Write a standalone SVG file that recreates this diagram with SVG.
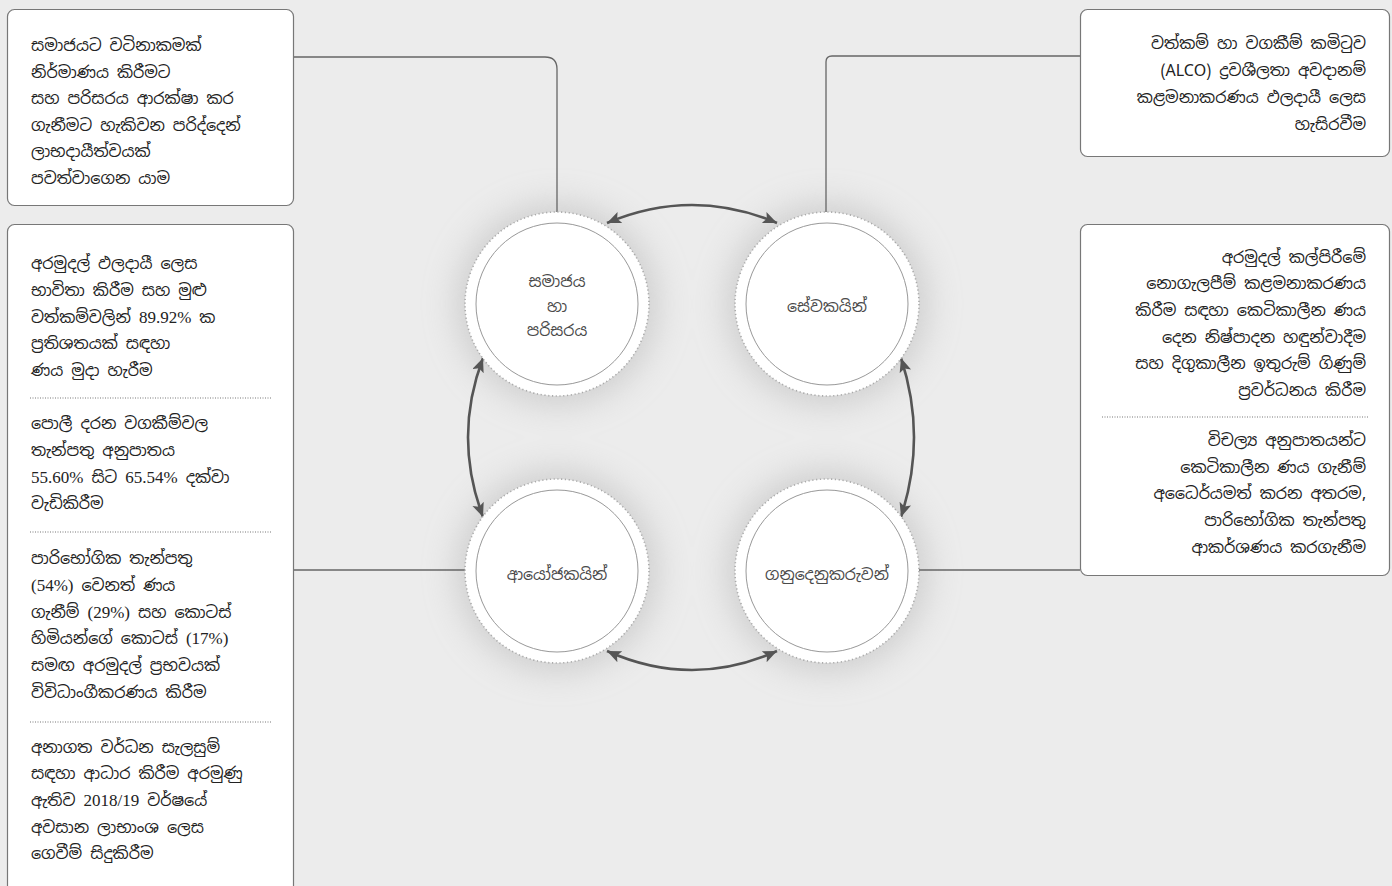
<svg xmlns="http://www.w3.org/2000/svg" width="1392" height="886" viewBox="0 0 1392 886">
<style>
.box{fill:#fff;stroke:#777;stroke-width:1.2}
.t{font-family:"Noto Sans Sinhala","Noto Serif Sinhala","Iskoola Pota","Liberation Serif",serif;font-size:16px;fill:#222}
.n{font-family:"Liberation Serif",serif;font-size:17px}
.r{text-anchor:end}
.c{font-family:"Noto Sans Sinhala","Noto Serif Sinhala","Iskoola Pota","Liberation Sans",sans-serif;font-size:15.8px;fill:#4a4a4a;text-anchor:middle}
.sep{stroke:#777;stroke-width:1;stroke-dasharray:1 1.5}
.conn{fill:none;stroke:#666;stroke-width:1.3}
.arc{fill:none;stroke:#555;stroke-width:2.6}
.ring{fill:#fff;stroke:#aaa;stroke-width:1.6;stroke-dasharray:1.2 2.6}
.inner{fill:#fff;stroke:#999;stroke-width:1}
</style>
<defs>
<marker id="ah" markerUnits="userSpaceOnUse" markerWidth="16" markerHeight="14" refX="14" refY="6" orient="auto-start-reverse">
<path d="M0,0 L14,6 L0,12 L3,6 z" fill="#555"/>
</marker>
<filter id="glow" x="-50%" y="-50%" width="200%" height="200%">
<feGaussianBlur stdDeviation="16"/>
</filter>
</defs>
<rect width="1392" height="886" fill="#ececec"/>
<g filter="url(#glow)" fill="#c4c4c4" opacity="0.7">
<circle cx="557" cy="304" r="102"/>
<circle cx="827" cy="304" r="102"/>
<circle cx="557" cy="571" r="102"/>
<circle cx="827" cy="571" r="102"/>
</g>
<g id="connectors">
<path class="conn" d="M294,57 H545 Q557,57 557,69 V212"/>
<path class="conn" d="M1080,56 H832 Q826,56 826,62 V212"/>
<path class="conn" d="M294,570 H466"/>
<path class="conn" d="M918,570 H1080"/>
<path class="arc" d="M607,223 Q692,187 777,223" marker-start="url(#ah)" marker-end="url(#ah)"/>
<path class="arc" d="M483,358 Q453,437 483,517" marker-start="url(#ah)" marker-end="url(#ah)"/>
<path class="arc" d="M901,358 Q927,437 901,517" marker-start="url(#ah)" marker-end="url(#ah)"/>
<path class="arc" d="M607,651 Q692,689 777,651" marker-start="url(#ah)" marker-end="url(#ah)"/>
</g>
<g id="n-society">
<circle class="ring" cx="557" cy="304" r="92"/>
<circle class="inner" cx="557" cy="304" r="81"/>
<text class="c" x="557" y="287">සමාජය</text>
<text class="c" x="557" y="312">හා</text>
<text class="c" x="557" y="336">පරිසරය</text>
</g>
<g id="n-employees">
<circle class="ring" cx="827" cy="304" r="92"/>
<circle class="inner" cx="827" cy="304" r="81"/>
<text class="c" x="827" y="312">සේවකයින්</text>
</g>
<g id="n-investors">
<circle class="ring" cx="557" cy="571" r="92"/>
<circle class="inner" cx="557" cy="571" r="81"/>
<text class="c" x="557" y="580">ආයෝජකයින්</text>
</g>
<g id="n-customers">
<circle class="ring" cx="827" cy="571" r="92"/>
<circle class="inner" cx="827" cy="571" r="81"/>
<text class="c" x="827" y="580">ගනුදෙනුකරුවන්</text>
</g>
<g id="box-society">
<rect class="box" x="7.5" y="9.5" width="286" height="196" rx="7"/>
<text class="t" x="31" y="51">සමාජයට වටිනාකමක්</text>
<text class="t" x="31" y="77.5">නිර්මාණය කිරීමට</text>
<text class="t" x="31" y="104">සහ පරිසරය ආරක්ෂා කර</text>
<text class="t" x="31" y="130.5">ගැනීමට හැකිවන පරිද්දෙන්</text>
<text class="t" x="31" y="157">ලාභදායීත්වයක්</text>
<text class="t" x="31" y="183.5">පවත්වාගෙන යාම</text>
</g>
<g id="box-employees">
<rect class="box" x="1080.5" y="9.5" width="309" height="147" rx="7"/>
<text class="t r" x="1366" y="49">වත්කම් හා වගකීම් කමිටුව</text>
<text class="t r" x="1366" y="76">(ALCO) ද්‍රවශීලතා අවදානම්</text>
<text class="t r" x="1366" y="103">කළමනාකරණය ඵලදායී ලෙස</text>
<text class="t r" x="1366" y="130">හැසිරවීම</text>
</g>
<g id="box-investors">
<rect class="box" x="7.5" y="224.5" width="286" height="680" rx="7"/>
<text class="t" x="31" y="269">අරමුදල් ඵලදායී ලෙස</text>
<text class="t" x="31" y="296">භාවිතා කිරීම සහ මුළු</text>
<text class="t" x="31" y="323">වත්කම්වලින් <tspan class="n">89.92%</tspan> ක</text>
<text class="t" x="31" y="349">ප්‍රතිශතයක් සඳහා</text>
<text class="t" x="31" y="376">ණය මුදා හැරීම</text>
<line class="sep" x1="30" y1="398" x2="272" y2="398"/>
<text class="t" x="31" y="429">පොලී දරන වගකීම්වල</text>
<text class="t" x="31" y="456">තැන්පතු අනුපාතය</text>
<text class="t" x="31" y="483"><tspan class="n">55.60%</tspan> සිට <tspan class="n">65.54%</tspan> දක්වා</text>
<text class="t" x="31" y="509">වැඩිකිරීම</text>
<line class="sep" x1="30" y1="532" x2="272" y2="532"/>
<text class="t" x="31" y="564">පාරිභෝගික තැන්පතු</text>
<text class="t" x="31" y="591"><tspan class="n">(54%)</tspan> වෙනත් ණය</text>
<text class="t" x="31" y="618">ගැනීම් <tspan class="n">(29%)</tspan> සහ කොටස්</text>
<text class="t" x="31" y="644">හිමියන්ගේ කොටස් <tspan class="n">(17%)</tspan></text>
<text class="t" x="31" y="671">සමඟ අරමුදල් ප්‍රභවයක්</text>
<text class="t" x="31" y="698">විවිධාංගීකරණය කිරීම</text>
<line class="sep" x1="30" y1="722" x2="272" y2="722"/>
<text class="t" x="31" y="753">අනාගත වර්ධන සැලසුම්</text>
<text class="t" x="31" y="779">සඳහා ආධාර කිරීම අරමුණු</text>
<text class="t" x="31" y="806">ඇතිව <tspan class="n">2018/19</tspan> වර්ෂයේ</text>
<text class="t" x="31" y="833">අවසාන ලාභාංශ ලෙස</text>
<text class="t" x="31" y="859">ගෙවීම් සිදුකිරීම</text>
</g>
<g id="box-customers">
<rect class="box" x="1080.5" y="224.5" width="309" height="351" rx="7"/>
<text class="t r" x="1366" y="263">අරමුදල් කල්පිරීමේ</text>
<text class="t r" x="1366" y="289">නොගැලපීම් කළමනාකරණය</text>
<text class="t r" x="1366" y="316">කිරීම සඳහා කෙටිකාලීන ණය</text>
<text class="t r" x="1366" y="343">දෙන නිෂ්පාදන හඳුන්වාදීම</text>
<text class="t r" x="1366" y="369">සහ දිගුකාලීන ඉතුරුම් ගිණුම්</text>
<text class="t r" x="1366" y="396">ප්‍රවර්ධනය කිරීම</text>
<line class="sep" x1="1102" y1="417" x2="1368" y2="417"/>
<text class="t r" x="1366" y="446">විචල්‍ය අනුපාතයන්ට</text>
<text class="t r" x="1366" y="473">කෙටිකාලීන ණය ගැනීම්</text>
<text class="t r" x="1366" y="499">අධෛර්යමත් කරන අතරම,</text>
<text class="t r" x="1366" y="526">පාරිභෝගික තැන්පතු</text>
<text class="t r" x="1366" y="553">ආකර්ශණය කරගැනීම</text>
</g>
</svg>
